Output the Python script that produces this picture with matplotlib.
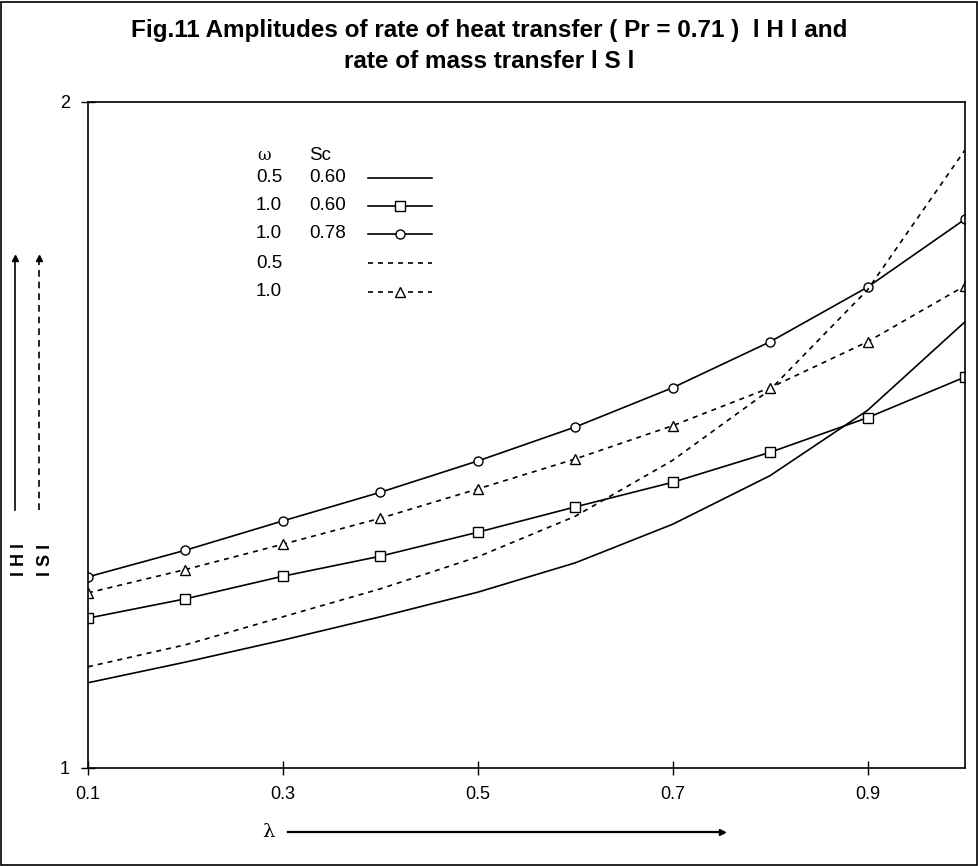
import numpy as np
import matplotlib.pyplot as plt
from matplotlib.lines import Line2D
from matplotlib.patches import Rectangle

plt.rcParams['font.family'] = ['Liberation Sans', 'DejaVu Sans']

lam = [0.1, 0.2, 0.3, 0.4, 0.5, 0.6, 0.7, 0.8, 0.9, 1.0]

# |H| curves (solid)
h_w05_sc060 = [1.128, 1.159, 1.192, 1.227, 1.264, 1.308, 1.366, 1.439, 1.537, 1.670]
h_w10_sc060 = [1.225, 1.254, 1.288, 1.318, 1.354, 1.392, 1.429, 1.474, 1.526, 1.587]
h_w10_sc078 = [1.287, 1.327, 1.371, 1.414, 1.461, 1.512, 1.571, 1.640, 1.722, 1.824]
# |S| curves (dashed)
s_w05 = [1.152, 1.185, 1.227, 1.269, 1.317, 1.378, 1.462, 1.568, 1.718, 1.928]
s_w10 = [1.263, 1.298, 1.336, 1.375, 1.419, 1.464, 1.514, 1.571, 1.640, 1.724]

omega_col = ["0.5", "1.0", "1.0", "0.5", "1.0"]
sc_col = ["0.60", "0.60", "0.78", "", ""]

W, H = 979, 866
fig = plt.figure(figsize=(W / 100, H / 100), dpi=100)
ax = fig.add_axes([88 / W, 1 - 768 / H, (965 - 88) / W, (768 - 102) / H])

dash = (0, (3, 3))
mk = dict(markerfacecolor='white', markeredgecolor='black', markersize=6.5,
          markeredgewidth=1.0)
styles = [
    dict(linestyle='-', marker=None),
    dict(linestyle='-', marker='s'),
    dict(linestyle='-', marker='o'),
    dict(linestyle=dash, marker=None),
    dict(linestyle=dash, marker='^'),
]
series = [h_w05_sc060, h_w10_sc060, h_w10_sc078, s_w05, s_w10]
for ys, st in zip(series, styles):
    ax.plot(lam, ys, color='black', lw=1.2, **st, **mk)

ax.set_xlim(0.1, 1.0)
ax.set_ylim(1, 2)
ax.set_xticks([0.1, 0.3, 0.5, 0.7, 0.9])
ax.set_xticklabels(["0.1", "0.3", "0.5", "0.7", "0.9"])
ax.set_yticks([1, 2])
ax.set_yticklabels(["1", "2"])
ax.tick_params(direction='inout', length=10, width=1, labelsize=13, pad=8)
for s in ax.spines.values():
    s.set_linewidth(1.2)


# hand-made legend: text columns on the left, line samples on the right
def fx(px):
    return (px - 88) / (965 - 88)


def fy(py):
    return (768 - py) / (768 - 102)


ax.text(fx(264), fy(155), "\u03c9", transform=ax.transAxes, fontsize=12,
        family=['DejaVu Serif'], ha='center', va='center')
ax.text(fx(309), fy(155), "Sc", transform=ax.transAxes, fontsize=13.5, va='center')
row_y = [178, 206, 234, 263, 292]
for w, sc, st, py in zip(omega_col, sc_col, styles, row_y):
    ax.text(fx(256), fy(py), w, transform=ax.transAxes, fontsize=13.5, va='center')
    if sc:
        ax.text(fx(309), fy(py), sc, transform=ax.transAxes, fontsize=13.5, va='center')
    ax.add_line(Line2D([fx(368), fx(432)], [fy(py), fy(py)], transform=ax.transAxes,
                       color='black', lw=1.2, linestyle=st['linestyle']))
    if st['marker']:
        ax.add_line(Line2D([fx(400)], [fy(py)], transform=ax.transAxes,
                           color='black', marker=st['marker'], linestyle='none', **mk))

fig.text(0.5, 1 - 30 / H, "Fig.11 Amplitudes of rate of heat transfer ( Pr = 0.71 )  l H l and",
         ha='center', va='center', fontsize=17.5, fontweight='bold')
fig.text(0.5, 1 - 61 / H, "rate of mass transfer l S l",
         ha='center', va='center', fontsize=17.5, fontweight='bold')

# y-axis labels with arrows
fig.text(20 / W, 1 - 560 / H, "l H l", rotation=90, ha='center', va='center',
         fontsize=13, fontweight='bold')
fig.text(46 / W, 1 - 560 / H, "l S l", rotation=90, ha='center', va='center',
         fontsize=13, fontweight='bold')
fig.add_artist(Line2D([15 / W, 15 / W], [1 - 510 / H, 1 - 262 / H], color='black', lw=1.2))
fig.add_artist(Line2D([39 / W, 39 / W], [1 - 510 / H, 1 - 262 / H], color='black', lw=1.2,
                      linestyle=(0, (4, 3))))
for xx in (15, 39):
    fig.add_artist(Line2D([xx / W], [1 - 258 / H], marker='^', color='black',
                          markersize=5, linestyle='none'))

# x-axis label with arrow
fig.text(268 / W, 1 - 832 / H, "\u03bb", ha='center', va='center', fontsize=14,
         family=['DejaVu Serif'])
fig.add_artist(Line2D([288 / W, 720 / W], [1 - 832 / H, 1 - 832 / H], color='black', lw=1.6))
fig.add_artist(Line2D([722 / W], [1 - 832 / H], marker='>', color='black',
                      markersize=5, linestyle='none'))

fig.add_artist(Rectangle((1.5 / W, 1.5 / H), (W - 3) / W, (H - 3) / H,
                         transform=fig.transFigure, fill=False, edgecolor='black', lw=1.2))

fig.savefig("out.png", dpi=100)
plt.close(fig)
